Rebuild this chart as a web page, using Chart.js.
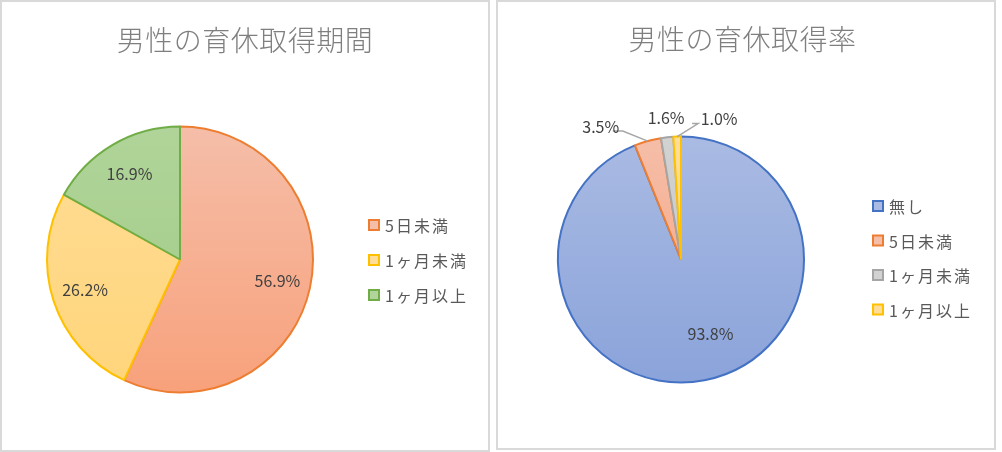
<!DOCTYPE html>
<html>
<head>
<meta charset="utf-8">
<script src="https://cdn.jsdelivr.net/npm/chart.js@4.4.1/dist/chart.umd.min.js"></script>
<style>
  body { margin: 0; background: #fff; width: 1002px; height: 452px; position: relative; overflow: hidden; }
  .panel { position: absolute; box-sizing: border-box; border: 2px solid #d9d9d9; background: #fff; }
  canvas { position: absolute; }
</style>
</head>
<body>
<div class="panel" style="left:0;top:0;width:490px;height:452px"></div>
<div class="panel" style="left:496px;top:0;width:500px;height:450px"></div>
<canvas id="kikan" style="left:0;top:0;width:490px;height:452px" width="490" height="452"></canvas>
<canvas id="ritsu" style="left:496px;top:0;width:500px;height:450px" width="500" height="450"></canvas>

<script>
// dati
const kikanTitle = '男性の育休取得期間';
const kikanLabels = ['5日未満', '1ヶ月未満', '1ヶ月以上'];
const kikanValues = [56.9, 26.2, 16.9];

const ritsuTitle = '男性の育休取得率';
const ritsuLabels = ['無し', '5日未満', '1ヶ月未満', '1ヶ月以上'];
const ritsuValues = [93.8, 3.5, 1.6, 1.0];

// colori stile Excel: [alto, basso, bordo]
const salmon = ['#f5bea9', '#f8a17b', '#ed7d31'];
const yellow = ['#ffdd97', '#ffd57a', '#ffc000'];
const green = ['#b0d499', '#a2cb86', '#70ad47'];
const blue = ['#aabbe3', '#8aa3da', '#4472c4'];
const gray = ['#d2d2d2', '#c4c4c4', '#a5a5a5'];

const FONT = '"Noto Sans CJK JP", "Noto Sans", sans-serif';

// riempimento sfumato verticale, come Excel
function gradientFill(colors) {
    return function(ctx) {
        const c = colors[ctx.dataIndex];
        const area = ctx.chart.chartArea;
        if (!area) return c[0];
        const g = ctx.chart.ctx.createLinearGradient(0, area.top, 0, area.bottom);
        g.addColorStop(0, c[0]);
        g.addColorStop(1, c[1]);
        return g;
    };
}

// titolo, legenda ed etichette disegnate a mano (posizioni come Excel)
const excelText = {
    id: 'excelText',
    afterDatasetsDraw(chart, args, opts) {
        const ctx = chart.ctx;
        const ds = chart.data.datasets[0];
        const meta = chart.getDatasetMeta(0);
        const colors = opts.colors;
        ctx.save();

        // titolo
        ctx.fillStyle = '#7f7f7f';
        ctx.font = '300 28px ' + FONT;
        ctx.letterSpacing = '0.5px';
        ctx.textAlign = 'center';
        ctx.textBaseline = 'middle';
        ctx.fillText(opts.title, opts.titleX, opts.titleY);
        ctx.letterSpacing = '0px';

        // etichette dati
        ctx.font = '16px ' + FONT;
        ctx.fillStyle = '#404040';
        meta.data.forEach((arc, i) => {
            const p = arc.getProps(['x', 'y', 'startAngle', 'endAngle', 'outerRadius'], true);
            const mid = (p.startAngle + p.endAngle) / 2;
            const text = ds.data[i].toFixed(1) + '%';
            const out = opts.outside && opts.outside[i];
            if (out) {
                const ax = p.x + Math.cos(mid) * p.outerRadius;
                const ay = p.y + Math.sin(mid) * p.outerRadius;
                const lx = ax + out.dx, ly = ay + out.dy;
                if (out.leader) {
                    ctx.strokeStyle = '#a6a6a6';
                    ctx.lineWidth = 1.5;
                    ctx.beginPath();
                    ctx.moveTo(ax, ay);
                    ctx.lineTo(lx + out.leader[0], ly + out.leader[1]);
                    ctx.lineTo(lx + out.leader[2], ly + out.leader[3]);
                    ctx.stroke();
                }
                ctx.fillText(text, lx, ly);
            } else {
                const r = p.outerRadius * opts.insideRatio;
                const sh = opts.shift || [0, 0];
                ctx.fillText(text, p.x + Math.cos(mid) * r + sh[0], p.y + Math.sin(mid) * r + sh[1]);
            }
        });

        // legenda
        ctx.textAlign = 'left';
        ctx.font = '16px ' + FONT;
        ctx.letterSpacing = '2px';
        chart.data.labels.forEach((lab, i) => {
            const y = opts.legendY + i * opts.legendGap;
            const x = opts.legendX;
            ctx.fillStyle = colors[i][0];
            ctx.fillRect(x, y - 5, 10, 10);
            ctx.strokeStyle = colors[i][2];
            ctx.lineWidth = 2;
            ctx.strokeRect(x, y - 5, 10, 10);
            ctx.fillStyle = '#595959';
            ctx.fillText(lab, x + 16, y + 1);
        });
        ctx.restore();
    }
};

function makePie(id, labels, values, colors, padding, textOpts) {
    const ctx = document.getElementById(id).getContext('2d');
    textOpts.colors = colors;
    return new Chart(ctx, {
        type: 'pie',
        data: {
            labels: labels,
            datasets: [{
                data: values,
                backgroundColor: gradientFill(colors),
                borderColor: colors.map(c => c[2]),
                borderWidth: 2
            }]
        },
        options: {
            responsive: false,
            animation: false,
            layout: { padding: padding },
            plugins: {
                legend: { display: false },
                tooltip: { enabled: false },
                excelText: textOpts
            }
        },
        plugins: [excelText]
    });
}

makePie('kikan', kikanLabels, kikanValues, [salmon, yellow, green],
    { left: 46, right: 176, top: 125, bottom: 58 },
    { title: kikanTitle, titleX: 245, titleY: 40, insideRatio: 0.75,
      legendX: 369, legendY: 225, legendGap: 35 });

makePie('ritsu', ritsuLabels, ritsuValues, [blue, salmon, gray, yellow],
    { left: 61, right: 191, top: 134, bottom: 65 },
    { title: ritsuTitle, titleX: 246.5, titleY: 39, insideRatio: 0.66, shift: [14, -5],
      legendX: 377, legendY: 206, legendGap: 34.5,
      outside: {
          1: { dx: -47, dy: -14, leader: [22, 4, 12, 4] },
          2: { dx: -1, dy: -19 },
          3: { dx: 42, dy: -18, leader: [-21, 5, -27, 5] }
      } });
</script>
</body>
</html>
